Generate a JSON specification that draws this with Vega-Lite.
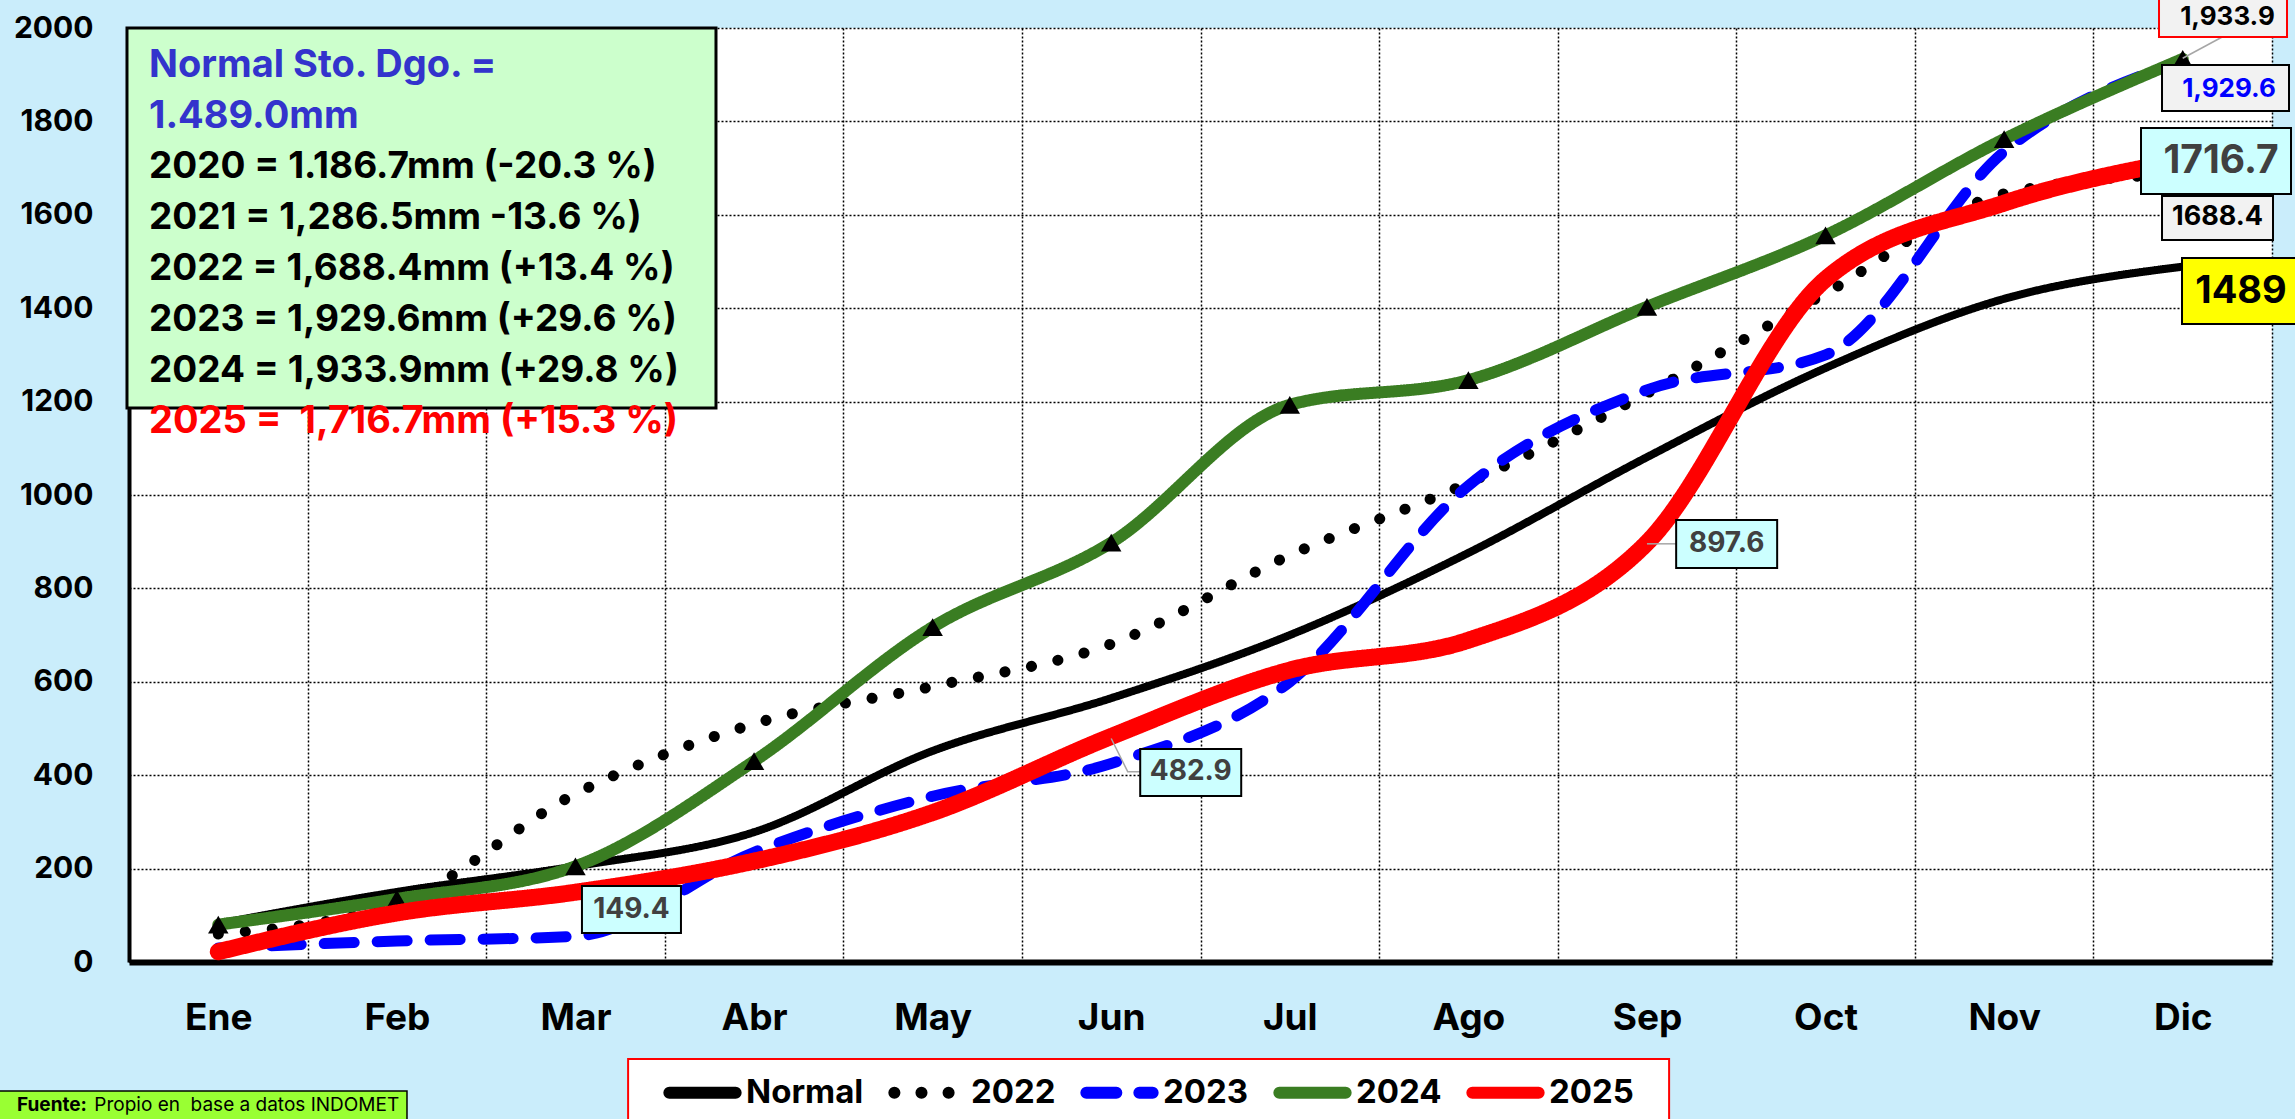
{
  "$schema": "https://vega.github.io/schema/vega-lite/v6.json",
  "autosize": {"type": "none"},
  "width": 2143,
  "height": 934,
  "padding": {"left": 129, "top": 28, "right": 23, "bottom": 157},
  "background": "#CAEDFB",
  "config": {"view": {"fill": "white", "stroke": null}, "font": "Inter"},
  "datasets": {
    "rain": [
      {"series": "Normal", "month": "Ene", "value": 82},
      {"series": "Normal", "month": "Feb", "value": 150},
      {"series": "Normal", "month": "Mar", "value": 205},
      {"series": "Normal", "month": "Abr", "value": 278},
      {"series": "Normal", "month": "May", "value": 452},
      {"series": "Normal", "month": "Jun", "value": 565},
      {"series": "Normal", "month": "Jul", "value": 700},
      {"series": "Normal", "month": "Ago", "value": 876},
      {"series": "Normal", "month": "Sep", "value": 1081},
      {"series": "Normal", "month": "Oct", "value": 1272},
      {"series": "Normal", "month": "Nov", "value": 1420},
      {"series": "Normal", "month": "Dic", "value": 1489},
      {"series": "2022", "month": "Ene", "value": 60},
      {"series": "2022", "month": "Feb", "value": 125},
      {"series": "2022", "month": "Mar", "value": 360},
      {"series": "2022", "month": "Abr", "value": 510},
      {"series": "2022", "month": "May", "value": 590},
      {"series": "2022", "month": "Jun", "value": 681},
      {"series": "2022", "month": "Jul", "value": 871},
      {"series": "2022", "month": "Ago", "value": 1026},
      {"series": "2022", "month": "Sep", "value": 1218},
      {"series": "2022", "month": "Oct", "value": 1432},
      {"series": "2022", "month": "Nov", "value": 1645},
      {"series": "2022", "month": "Dic", "value": 1688.4},
      {"series": "2023", "month": "Ene", "value": 30},
      {"series": "2023", "month": "Feb", "value": 45},
      {"series": "2023", "month": "Mar", "value": 55},
      {"series": "2023", "month": "Abr", "value": 235},
      {"series": "2023", "month": "May", "value": 355},
      {"series": "2023", "month": "Jun", "value": 425},
      {"series": "2023", "month": "Jul", "value": 600},
      {"series": "2023", "month": "Ago", "value": 1020},
      {"series": "2023", "month": "Sep", "value": 1225},
      {"series": "2023", "month": "Oct", "value": 1300},
      {"series": "2023", "month": "Nov", "value": 1735},
      {"series": "2023", "month": "Dic", "value": 1929.6},
      {"series": "2024", "month": "Ene", "value": 80},
      {"series": "2024", "month": "Feb", "value": 135},
      {"series": "2024", "month": "Mar", "value": 205},
      {"series": "2024", "month": "Abr", "value": 430},
      {"series": "2024", "month": "May", "value": 717},
      {"series": "2024", "month": "Jun", "value": 898},
      {"series": "2024", "month": "Jul", "value": 1193},
      {"series": "2024", "month": "Ago", "value": 1246},
      {"series": "2024", "month": "Sep", "value": 1403},
      {"series": "2024", "month": "Oct", "value": 1556},
      {"series": "2024", "month": "Nov", "value": 1762},
      {"series": "2024", "month": "Dic", "value": 1933.9},
      {"series": "2025", "month": "Ene", "value": 22},
      {"series": "2025", "month": "Feb", "value": 105},
      {"series": "2025", "month": "Mar", "value": 149.4},
      {"series": "2025", "month": "Abr", "value": 216},
      {"series": "2025", "month": "May", "value": 320},
      {"series": "2025", "month": "Jun", "value": 482.9},
      {"series": "2025", "month": "Jul", "value": 625},
      {"series": "2025", "month": "Ago", "value": 689},
      {"series": "2025", "month": "Sep", "value": 897.6},
      {"series": "2025", "month": "Oct", "value": 1462},
      {"series": "2025", "month": "Nov", "value": 1625},
      {"series": "2025", "month": "Dic", "value": 1716.7}
    ]
  },
  "data": {"name": "rain"},
  "layer": [
    {
      "data": {"values": [{}]},
      "mark": {"type": "point", "shape": "M-91.3,0H497.7V380H-91.3Z", "size": 4, "filled": true, "fill": "#CCFFCC", "stroke": "black", "strokeWidth": 3, "opacity": 1},
      "encoding": {
        "x": {"datum": "Ene", "type": "ordinal", "bandPosition": 0.5},
        "y": {"datum": 2000, "type": "quantitative"}
      }
    },
    {
      "data": {"values": [{}]},
      "mark": {"type": "text", "text": ["Normal Sto. Dgo. =", "1.489.0mm"], "align": "left", "baseline": "alphabetic", "dx": -69.3, "dy": 49, "lineHeight": 51, "fontSize": 38, "fontWeight": "bold", "color": "#3333CC"},
      "encoding": {
        "x": {"datum": "Ene", "type": "ordinal", "bandPosition": 0.5},
        "y": {"datum": 2000, "type": "quantitative"}
      }
    },
    {
      "data": {"values": [{}]},
      "mark": {"type": "text", "text": ["2020 = 1.186.7mm (-20.3 %)", "2021 = 1,286.5mm -13.6 %)", "2022 = 1,688.4mm (+13.4 %)", "2023 = 1,929.6mm (+29.6 %)", "2024 = 1,933.9mm (+29.8 %)"], "align": "left", "baseline": "alphabetic", "dx": -69.3, "dy": 150, "lineHeight": 51, "fontSize": 37, "fontWeight": "bold", "color": "black"},
      "encoding": {
        "x": {"datum": "Ene", "type": "ordinal", "bandPosition": 0.5},
        "y": {"datum": 2000, "type": "quantitative"}
      }
    },
    {
      "data": {"values": [{}]},
      "mark": {"type": "text", "text": "2025 =\u00a0\u00a01,716.7mm (+15.3 %)", "align": "left", "baseline": "alphabetic", "dx": -69.3, "dy": 405, "fontSize": 38, "fontWeight": "bold", "color": "#FF0000"},
      "encoding": {
        "x": {"datum": "Ene", "type": "ordinal", "bandPosition": 0.5},
        "y": {"datum": 2000, "type": "quantitative"}
      }
    },
    {
      "transform": [{"filter": "datum.series === 'Normal'"}],
      "mark": {"type": "line", "interpolate": "monotone", "strokeCap": "round", "strokeJoin": "round", "strokeWidth": 8},
      "encoding": {
        "x": {"field": "month", "type": "ordinal", "sort": ["Ene","Feb","Mar","Abr","May","Jun","Jul","Ago","Sep","Oct","Nov","Dic"], "bandPosition": 0.5, "title": null,
          "scale": {"type": "band", "domain": ["Ene","Feb","Mar","Abr","May","Jun","Jul","Ago","Sep","Oct","Nov","Dic"], "paddingInner": 0, "paddingOuter": 0},
          "axis": {"tickBand": "extent", "grid": true, "gridColor": "black", "gridDash": [2, 2], "gridWidth": 1.5, "gridOpacity": 1, "ticks": false, "tickSize": 0, "domainColor": "black", "domainWidth": 6, "labelFont": "Inter", "labelFontSize": 37, "labelFontWeight": "bold", "labelColor": "black", "labelPadding": 56, "labelAngle": 0, "labelAlign": "center", "labelOffset": 0}},
        "y": {"field": "value", "type": "quantitative", "title": null,
          "scale": {"domain": [0, 2000], "nice": false, "zero": true},
          "axis": {"values": [0,200,400,600,800,1000,1200,1400,1600,1800,2000], "format": "d", "grid": true, "gridColor": "black", "gridDash": [2, 2], "gridWidth": 1.5, "gridOpacity": 1, "ticks": false, "tickSize": 0, "domainColor": "black", "domainWidth": 4, "labelFont": "Inter", "labelFontSize": 30, "labelFontWeight": "bold", "labelColor": "black", "labelPadding": 36}},
        "color": {"field": "series", "type": "nominal",
          "scale": {"domain": ["Normal","2022","2023","2024","2025"], "range": ["#000000","#000000","#0000FF","#3A7D22","#FF0000"]},
          "legend": {"title": null, "orient": "none", "legendX": 534, "legendY": 1025, "direction": "horizontal", "symbolType": "stroke", "symbolSize": 4400, "symbolStrokeWidth": 12, "labelFont": "Inter", "labelFontSize": 33, "labelFontWeight": "bold", "labelColor": "black", "labelOffset": 4, "columnPadding": 6, "padding": 0, "labelLimit": 400, "encode": {"symbols": {"update": {"strokeCap": {"value": "round"}, "strokeWidth": {"value": 12}}}}}},
        "strokeDash": {"field": "series", "type": "nominal",
          "scale": {"domain": ["Normal","2022","2023","2024","2025"], "range": [[1,0],[0.1,27],[30,23],[1,0],[1,0]]},
          "legend": {"title": null, "orient": "none", "legendX": 534, "legendY": 1025, "direction": "horizontal", "symbolType": "stroke", "symbolSize": 4400, "symbolStrokeWidth": 12, "labelFont": "Inter", "labelFontSize": 33, "labelFontWeight": "bold", "labelColor": "black", "labelOffset": 4, "columnPadding": 6, "padding": 0, "labelLimit": 400, "encode": {"symbols": {"update": {"strokeCap": {"value": "round"}, "strokeWidth": {"value": 12}}}}}}
      }
    },
    {
      "transform": [{"filter": "datum.series === '2022'"}],
      "mark": {"type": "line", "interpolate": "monotone", "strokeCap": "round", "strokeJoin": "round", "strokeWidth": 11},
      "encoding": {
        "x": {"field": "month", "type": "ordinal", "sort": ["Ene","Feb","Mar","Abr","May","Jun","Jul","Ago","Sep","Oct","Nov","Dic"], "bandPosition": 0.5, "title": null},
        "y": {"field": "value", "type": "quantitative", "title": null},
        "color": {"field": "series", "type": "nominal"},
        "strokeDash": {"field": "series", "type": "nominal"}
      }
    },
    {
      "transform": [{"filter": "datum.series === '2023'"}],
      "mark": {"type": "line", "interpolate": "monotone", "strokeCap": "round", "strokeJoin": "round", "strokeWidth": 11},
      "encoding": {
        "x": {"field": "month", "type": "ordinal", "sort": ["Ene","Feb","Mar","Abr","May","Jun","Jul","Ago","Sep","Oct","Nov","Dic"], "bandPosition": 0.5, "title": null},
        "y": {"field": "value", "type": "quantitative", "title": null},
        "color": {"field": "series", "type": "nominal"},
        "strokeDash": {"field": "series", "type": "nominal"}
      }
    },
    {
      "transform": [{"filter": "datum.series === '2024'"}],
      "mark": {"type": "line", "interpolate": "monotone", "strokeCap": "round", "strokeJoin": "round", "strokeWidth": 12},
      "encoding": {
        "x": {"field": "month", "type": "ordinal", "sort": ["Ene","Feb","Mar","Abr","May","Jun","Jul","Ago","Sep","Oct","Nov","Dic"], "bandPosition": 0.5, "title": null},
        "y": {"field": "value", "type": "quantitative", "title": null},
        "color": {"field": "series", "type": "nominal"},
        "strokeDash": {"field": "series", "type": "nominal"}
      }
    },
    {
      "transform": [{"filter": "datum.series === '2024'"}],
      "mark": {"type": "point", "shape": "triangle-up", "size": 420, "filled": true, "color": "black", "opacity": 1},
      "encoding": {
        "x": {"field": "month", "type": "ordinal", "bandPosition": 0.5, "title": null},
        "y": {"field": "value", "type": "quantitative", "title": null}
      }
    },
    {
      "transform": [{"filter": "datum.series === '2025'"}],
      "mark": {"type": "line", "interpolate": "monotone", "strokeCap": "round", "strokeJoin": "round", "strokeWidth": 17},
      "encoding": {
        "x": {"field": "month", "type": "ordinal", "sort": ["Ene","Feb","Mar","Abr","May","Jun","Jul","Ago","Sep","Oct","Nov","Dic"], "bandPosition": 0.5, "title": null},
        "y": {"field": "value", "type": "quantitative", "title": null},
        "color": {"field": "series", "type": "nominal"},
        "strokeDash": {"field": "series", "type": "nominal"}
      }
    },
    {
      "transform": [{"filter": "datum.series === '2025' && datum.month === 'Jun'"}],
      "mark": {"type": "point", "shape": "M0,2L16.5,35.2L29,35.2", "size": 4, "filled": false, "stroke": "#A6A6A6", "strokeWidth": 1.5, "opacity": 1},
      "encoding": {
        "x": {"field": "month", "type": "ordinal", "bandPosition": 0.5, "title": null},
        "y": {"field": "value", "type": "quantitative", "title": null}
      }
    },
    {
      "transform": [{"filter": "datum.series === '2025' && datum.month === 'Sep'"}],
      "mark": {"type": "point", "shape": "M0,1L29.2,1", "size": 4, "filled": false, "stroke": "#A6A6A6", "strokeWidth": 1.5, "opacity": 1},
      "encoding": {
        "x": {"field": "month", "type": "ordinal", "bandPosition": 0.5, "title": null},
        "y": {"field": "value", "type": "quantitative", "title": null}
      }
    },
    {
      "transform": [{"filter": "datum.series === '2024' && datum.month === 'Dic'"}],
      "mark": {"type": "point", "shape": "M0,-0.6L39,-21.6", "size": 4, "filled": false, "stroke": "#A6A6A6", "strokeWidth": 1.5, "opacity": 1},
      "encoding": {
        "x": {"field": "month", "type": "ordinal", "bandPosition": 0.5, "title": null},
        "y": {"field": "value", "type": "quantitative", "title": null}
      }
    },
    {
      "transform": [{"filter": "datum.series === '2025' && datum.month === 'Mar'"}],
      "mark": {"type": "point", "shape": "M6.5,-6.2H105.5V40.8H6.5Z", "size": 4, "filled": true, "fill": "#CCFFFF", "stroke": "black", "strokeWidth": 2, "opacity": 1},
      "encoding": {
        "x": {"field": "month", "type": "ordinal", "bandPosition": 0.5, "title": null},
        "y": {"field": "value", "type": "quantitative", "title": null}
      }
    },
    {
      "transform": [{"filter": "datum.series === '2025' && datum.month === 'Mar'"}],
      "mark": {"type": "text", "dx": 56, "dy": 17.3, "align": "center", "baseline": "middle", "fontSize": 28, "fontWeight": "bold", "color": "#404040"},
      "encoding": {
        "x": {"field": "month", "type": "ordinal", "bandPosition": 0.5, "title": null},
        "y": {"field": "value", "type": "quantitative", "title": null},
        "text": {"field": "value", "type": "quantitative", "format": ".1f"}
      }
    },
    {
      "transform": [{"filter": "datum.series === '2025' && datum.month === 'Jun'"}],
      "mark": {"type": "point", "shape": "M29,12.5H130V59.5H29Z", "size": 4, "filled": true, "fill": "#CCFFFF", "stroke": "black", "strokeWidth": 2, "opacity": 1},
      "encoding": {
        "x": {"field": "month", "type": "ordinal", "bandPosition": 0.5, "title": null},
        "y": {"field": "value", "type": "quantitative", "title": null}
      }
    },
    {
      "transform": [{"filter": "datum.series === '2025' && datum.month === 'Jun'"}],
      "mark": {"type": "text", "dx": 79.5, "dy": 36, "align": "center", "baseline": "middle", "fontSize": 28, "fontWeight": "bold", "color": "#404040"},
      "encoding": {
        "x": {"field": "month", "type": "ordinal", "bandPosition": 0.5, "title": null},
        "y": {"field": "value", "type": "quantitative", "title": null},
        "text": {"field": "value", "type": "quantitative", "format": ".1f"}
      }
    },
    {
      "transform": [{"filter": "datum.series === '2025' && datum.month === 'Sep'"}],
      "mark": {"type": "point", "shape": "M29.2,-22.8H130.2V25.2H29.2Z", "size": 4, "filled": true, "fill": "#CCFFFF", "stroke": "black", "strokeWidth": 2, "opacity": 1},
      "encoding": {
        "x": {"field": "month", "type": "ordinal", "bandPosition": 0.5, "title": null},
        "y": {"field": "value", "type": "quantitative", "title": null}
      }
    },
    {
      "transform": [{"filter": "datum.series === '2025' && datum.month === 'Sep'"}],
      "mark": {"type": "text", "dx": 79.7, "dy": 1.2, "align": "center", "baseline": "middle", "fontSize": 28, "fontWeight": "bold", "color": "#404040"},
      "encoding": {
        "x": {"field": "month", "type": "ordinal", "bandPosition": 0.5, "title": null},
        "y": {"field": "value", "type": "quantitative", "title": null},
        "text": {"field": "value", "type": "quantitative", "format": ".1f"}
      }
    },
    {
      "transform": [{"filter": "datum.series === '2024' && datum.month === 'Dic'"}],
      "mark": {"type": "point", "shape": "M-23.7,-71H104.3V-21.9H-23.7Z", "size": 4, "filled": true, "fill": "#F2F2F2", "stroke": "#FF0000", "strokeWidth": 2, "opacity": 1},
      "encoding": {
        "x": {"field": "month", "type": "ordinal", "bandPosition": 0.5, "title": null},
        "y": {"field": "value", "type": "quantitative", "title": null}
      }
    },
    {
      "transform": [{"filter": "datum.series === '2024' && datum.month === 'Dic'"}],
      "mark": {"type": "text", "dx": 44.8, "dy": -34, "align": "center", "baseline": "alphabetic", "fontSize": 26, "fontWeight": "bold", "color": "black"},
      "encoding": {
        "x": {"field": "month", "type": "ordinal", "bandPosition": 0.5, "title": null},
        "y": {"field": "value", "type": "quantitative", "title": null},
        "text": {"field": "value", "type": "quantitative", "format": ",.1f"}
      }
    },
    {
      "transform": [{"filter": "datum.series === '2023' && datum.month === 'Dic'"}],
      "mark": {"type": "point", "shape": "M-20.7,4.1H106.3V50.1H-20.7Z", "size": 4, "filled": true, "fill": "#F2F2F2", "stroke": "black", "strokeWidth": 2, "opacity": 1},
      "encoding": {
        "x": {"field": "month", "type": "ordinal", "bandPosition": 0.5, "title": null},
        "y": {"field": "value", "type": "quantitative", "title": null}
      }
    },
    {
      "transform": [{"filter": "datum.series === '2023' && datum.month === 'Dic'"}],
      "mark": {"type": "text", "dx": 46.3, "dy": 28, "align": "center", "baseline": "middle", "fontSize": 26, "fontWeight": "bold", "color": "#0000FF"},
      "encoding": {
        "x": {"field": "month", "type": "ordinal", "bandPosition": 0.5, "title": null},
        "y": {"field": "value", "type": "quantitative", "title": null},
        "text": {"field": "value", "type": "quantitative", "format": ",.1f"}
      }
    },
    {
      "transform": [{"filter": "datum.series === '2025' && datum.month === 'Dic'"}],
      "mark": {"type": "point", "shape": "M-41.7,-32.3H108.3V33.7H-41.7Z", "size": 4, "filled": true, "fill": "#CCFFFF", "stroke": "black", "strokeWidth": 2, "opacity": 1},
      "encoding": {
        "x": {"field": "month", "type": "ordinal", "bandPosition": 0.5, "title": null},
        "y": {"field": "value", "type": "quantitative", "title": null}
      }
    },
    {
      "transform": [{"filter": "datum.series === '2025' && datum.month === 'Dic'"}],
      "mark": {"type": "text", "dx": 38.3, "dy": 0.7, "align": "center", "baseline": "middle", "fontSize": 39, "fontWeight": "bold", "color": "#404040"},
      "encoding": {
        "x": {"field": "month", "type": "ordinal", "bandPosition": 0.5, "title": null},
        "y": {"field": "value", "type": "quantitative", "title": null},
        "text": {"field": "value", "type": "quantitative", "format": ".1f"}
      }
    },
    {
      "transform": [{"filter": "datum.series === '2022' && datum.month === 'Dic'"}],
      "mark": {"type": "point", "shape": "M-20.7,22.5H90.3V66.5H-20.7Z", "size": 4, "filled": true, "fill": "#F2F2F2", "stroke": "black", "strokeWidth": 2, "opacity": 1},
      "encoding": {
        "x": {"field": "month", "type": "ordinal", "bandPosition": 0.5, "title": null},
        "y": {"field": "value", "type": "quantitative", "title": null}
      }
    },
    {
      "transform": [{"filter": "datum.series === '2022' && datum.month === 'Dic'"}],
      "mark": {"type": "text", "dx": 34.8, "dy": 43.5, "align": "center", "baseline": "middle", "fontSize": 27, "fontWeight": "bold", "color": "black"},
      "encoding": {
        "x": {"field": "month", "type": "ordinal", "bandPosition": 0.5, "title": null},
        "y": {"field": "value", "type": "quantitative", "title": null},
        "text": {"field": "value", "type": "quantitative", "format": ".1f"}
      }
    },
    {
      "transform": [{"filter": "datum.series === 'Normal' && datum.month === 'Dic'"}],
      "mark": {"type": "point", "shape": "M-0.7,-8.6H127.3V57.4H-0.7Z", "size": 4, "filled": true, "fill": "#FFFF00", "stroke": "black", "strokeWidth": 2, "opacity": 1},
      "encoding": {
        "x": {"field": "month", "type": "ordinal", "bandPosition": 0.5, "title": null},
        "y": {"field": "value", "type": "quantitative", "title": null}
      }
    },
    {
      "transform": [{"filter": "datum.series === 'Normal' && datum.month === 'Dic'"}],
      "mark": {"type": "text", "dx": 58.3, "dy": 25, "align": "center", "baseline": "middle", "fontSize": 38, "fontWeight": "bold", "color": "black"},
      "encoding": {
        "x": {"field": "month", "type": "ordinal", "bandPosition": 0.5, "title": null},
        "y": {"field": "value", "type": "quantitative", "title": null},
        "text": {"field": "value", "type": "quantitative", "format": ".0f"}
      }
    },
    {
      "data": {"values": [{}]},
      "mark": {"type": "point", "shape": "M-483.1,97H557.9V173H-483.1Z", "size": 4, "filled": true, "fill": "white", "stroke": "#FF0000", "strokeWidth": 2, "opacity": 1},
      "encoding": {
        "x": {"datum": "Jun", "type": "ordinal", "bandPosition": 0.5},
        "y": {"datum": 0, "type": "quantitative"}
      }
    },
    {
      "data": {"values": [{}]},
      "mark": {"type": "point", "shape": "M-222,129H188.7V175H-222Z", "size": 4, "filled": true, "fill": "#99FF33", "stroke": "black", "strokeWidth": 1.5, "opacity": 1},
      "encoding": {
        "x": {"datum": "Ene", "type": "ordinal", "bandPosition": 0.5},
        "y": {"datum": 0, "type": "quantitative"}
      }
    },
    {
      "data": {"values": [{}]},
      "mark": {"type": "text", "text": "Fuente:", "align": "left", "baseline": "alphabetic", "dx": -201.3, "dy": 149, "fontSize": 19, "fontWeight": "bold", "color": "black"},
      "encoding": {
        "x": {"datum": "Ene", "type": "ordinal", "bandPosition": 0.5},
        "y": {"datum": 0, "type": "quantitative"}
      }
    },
    {
      "data": {"values": [{}]},
      "mark": {"type": "text", "text": "Propio en\u00a0\u00a0base a datos INDOMET", "align": "left", "baseline": "alphabetic", "dx": -124, "dy": 149, "fontSize": 19, "fontWeight": "normal", "color": "black"},
      "encoding": {
        "x": {"datum": "Ene", "type": "ordinal", "bandPosition": 0.5},
        "y": {"datum": 0, "type": "quantitative"}
      }
    }
  ]
}
